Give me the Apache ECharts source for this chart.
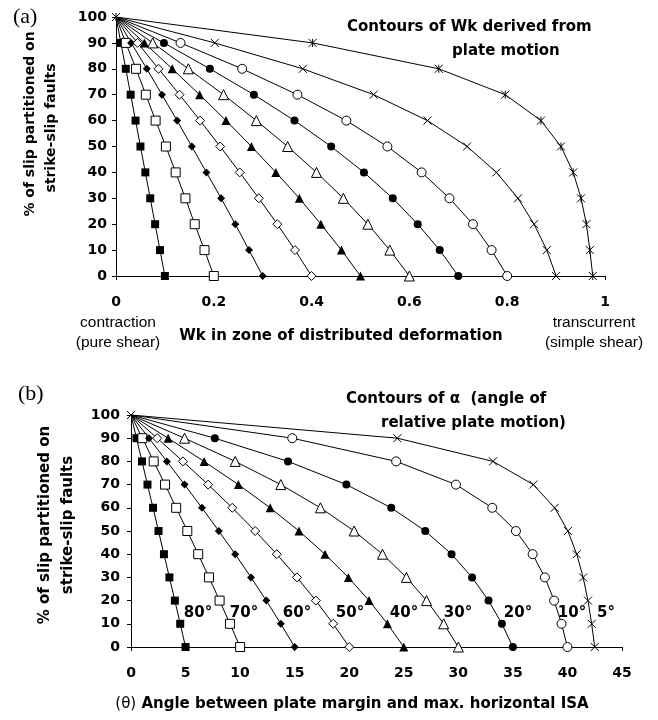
<!DOCTYPE html>
<html>
<head>
<meta charset="utf-8">
<script src="https://cdn.jsdelivr.net/npm/echarts@6/dist/echarts.min.js"></script>
<style>html,body{margin:0;padding:0;background:#fff;}#c{width:658px;height:720px;}</style>
</head>
<body>
<div id="c"></div>
<script>
// % of slip partitioned on strike-slip faults (y values, shared by all contours)
const slip = [0, 10, 20, 30, 40, 50, 60, 70, 80, 90, 100];

// Panel (a): Wk in zone of distributed deformation, one contour per plate-motion Wk
const wk010 = [0.100, 0.090, 0.080, 0.070, 0.060, 0.050, 0.040, 0.030, 0.020, 0.010, 0];
const wk020 = [0.200, 0.181, 0.161, 0.142, 0.122, 0.102, 0.081, 0.061, 0.041, 0.020, 0];
const wk030 = [0.300, 0.272, 0.244, 0.215, 0.185, 0.155, 0.125, 0.094, 0.063, 0.031, 0];
const wk040 = [0.400, 0.366, 0.330, 0.292, 0.253, 0.213, 0.172, 0.130, 0.087, 0.044, 0];
const wk050 = [0.500, 0.461, 0.419, 0.375, 0.327, 0.277, 0.225, 0.171, 0.115, 0.058, 0];
const wk060 = [0.600, 0.560, 0.515, 0.465, 0.410, 0.351, 0.287, 0.220, 0.148, 0.075, 0];
const wk070 = [0.700, 0.662, 0.617, 0.566, 0.507, 0.440, 0.365, 0.282, 0.192, 0.098, 0];
const wk080 = [0.800, 0.768, 0.730, 0.682, 0.625, 0.555, 0.471, 0.371, 0.258, 0.132, 0];
const wk090 = [0.900, 0.881, 0.855, 0.822, 0.778, 0.718, 0.637, 0.527, 0.382, 0.202, 0];
const wk098 = [0.975, 0.969, 0.962, 0.951, 0.935, 0.910, 0.869, 0.796, 0.660, 0.402, 0];

// Panel (b): theta (angle between plate margin and max. horizontal ISA), one contour per alpha
const th80 = [5.0, 4.51, 4.02, 3.52, 3.02, 2.52, 2.02, 1.51, 1.01, 0.50, 0];
const th70 = [10.0, 9.07, 8.12, 7.15, 6.16, 5.16, 4.14, 3.12, 2.08, 1.04, 0];
const th60 = [15.0, 13.73, 12.40, 11.00, 9.55, 8.05, 6.50, 4.91, 3.29, 1.65, 0];
const th50 = [20.0, 18.53, 16.94, 15.21, 13.36, 11.38, 9.28, 7.07, 4.76, 2.40, 0];
const th40 = [25.0, 23.50, 21.82, 19.92, 17.78, 15.40, 12.75, 9.84, 6.70, 3.40, 0];
const th30 = [30.0, 28.66, 27.09, 25.24, 23.05, 20.45, 17.36, 13.73, 9.55, 4.91, 0];
const th20 = [35.0, 33.99, 32.77, 31.26, 29.38, 26.97, 23.85, 19.74, 14.39, 7.68, 0];
const th10 = [40.0, 39.46, 38.78, 37.93, 36.81, 35.28, 33.11, 29.78, 24.30, 14.78, 0];
const th05 = [42.5, 42.22, 41.88, 41.44, 40.85, 40.04, 38.83, 36.87, 33.18, 24.41, 0];

// Tick labels
const yTicks = [0, 10, 20, 30, 40, 50, 60, 70, 80, 90, 100];
const xTicksA = ['0', '0.2', '0.4', '0.6', '0.8', '1'];
const xTicksB = ['0', '5', '10', '15', '20', '25', '30', '35', '40', '45'];
const alphaLabels = ['80°', '70°', '60°', '50°', '40°', '30°', '20°', '10°', '5°'];

const X_PATH = 'path://M0,0L10,10M10,0L0,10';
const STAR_PATH = 'path://M0,0L10,10M10,0L0,10M5,0L5,10';

const markers = [
  {symbol: 'rect', size: 8, fill: '#000'},
  {symbol: 'rect', size: 9, fill: '#fff'},
  {symbol: 'diamond', size: 8, fill: '#000'},
  {symbol: 'diamond', size: 9, fill: '#fff'},
  {symbol: 'triangle', size: 9, fill: '#000'},
  {symbol: 'triangle', size: 10, fill: '#fff'},
  {symbol: 'circle', size: 8, fill: '#000'},
  {symbol: 'circle', size: 9, fill: '#fff'},
  {symbol: X_PATH, size: 8, fill: 'none'},
  {symbol: STAR_PATH, size: 8, fill: 'none'}
];

function makeSeries(arr, m, axisIdx, showTop) {
  const data = slip.map((s, i) => {
    const d = {value: [arr[i], s]};
    if (s === 100 && !showTop) d.symbol = 'none';
    return d;
  });
  const isPath = m.symbol.indexOf('path://') === 0;
  return {
    type: 'line',
    xAxisIndex: axisIdx, yAxisIndex: axisIdx,
    data: data,
    symbol: m.symbol,
    symbolSize: m.size,
    showAllSymbol: true,
    clip: false,
    silent: true,
    lineStyle: {color: '#000', width: 1},
    itemStyle: {
      color: isPath ? '#000' : m.fill,
      borderColor: '#000',
      borderWidth: (m.fill === '#000' && !isPath) ? 0 : 1
    },
    emphasis: {disabled: true},
    z: 3
  };
}

const seriesA = [wk010, wk020, wk030, wk040, wk050, wk060, wk070, wk080, wk090, wk098]
  .map((a, i) => makeSeries(a, markers[i], 0, i === 9));
const seriesB = [th80, th70, th60, th50, th40, th30, th20, th10, th05]
  .map((a, i) => makeSeries(a, markers[i], 1, i === 8));

const tickFont = {fontFamily: 'DejaVu Sans', fontWeight: 'bold', fontSize: 14, color: '#000'};
const axisCommon = {
  axisLine: {show: true, lineStyle: {color: '#000', width: 1}},
  axisTick: {show: true, length: 4, lineStyle: {color: '#000'}},
  splitLine: {show: false}
};

const boldFont = 'bold 15px "DejaVu Sans"';
const yLabFontA = 'bold 14px "DejaVu Sans"';
const normFont = '15.5px "Liberation Sans"';
function txt(x, y, text, font, align, rot) {
  return {
    type: 'text', x: x, y: y, rotation: rot || 0, silent: true,
    style: {text: text, font: font, fill: '#000', textAlign: align || 'left', textVerticalAlign: 'middle'}
  };
}
const degX = [198, 244, 297, 350, 404, 458, 518, 572, 606];

const graphics = [
  txt(13, 17, '(a)', '22px "Liberation Serif"', 'left'),
  txt(18, 394, '(b)', '22px "Liberation Serif"', 'left'),
  txt(30, 124, '% of slip partitioned on', yLabFontA, 'center', Math.PI / 2),
  txt(51, 128, 'strike-slip faults', yLabFontA, 'center', Math.PI / 2),
  txt(45, 525, '% of slip partitioned on', boldFont, 'center', Math.PI / 2),
  txt(68, 525, 'strike-slip faults', boldFont, 'center', Math.PI / 2),
  txt(347, 27, 'Contours of Wk derived from', boldFont, 'left'),
  txt(452, 51, 'plate motion', boldFont, 'left'),
  txt(118, 323, 'contraction', normFont, 'center'),
  txt(118, 343, '(pure shear)', normFont, 'center'),
  txt(341, 336, 'Wk in zone of distributed deformation', boldFont, 'center'),
  txt(594, 323, 'transcurrent', normFont, 'center'),
  txt(594, 343, '(simple shear)', normFont, 'center'),
  txt(346, 399, 'Contours of α  (angle of', boldFont, 'left'),
  txt(381, 423, 'relative plate motion)', boldFont, 'left'),
  {
    type: 'text', x: 352, y: 704, silent: true,
    style: {
      text: '{n|(θ)} Angle between plate margin and max. horizontal ISA',
      font: boldFont, fill: '#000', textAlign: 'center', textVerticalAlign: 'middle',
      rich: {n: {font: '15px "DejaVu Sans"', fill: '#000'}}
    }
  }
].concat(alphaLabels.map((t, i) => txt(degX[i], 613, t, 'bold 15px "DejaVu Sans"', 'center')));

const chart = echarts.init(document.getElementById('c'), null, {renderer: 'canvas'});
chart.setOption({
  animation: false,
  backgroundColor: '#fff',
  grid: [
    {left: 116, top: 17, width: 489, height: 259},
    {left: 131, top: 415, width: 491, height: 232}
  ],
  xAxis: [
    Object.assign({}, axisCommon, {
      gridIndex: 0, type: 'value', min: 0, max: 1, interval: 0.2,
      axisLabel: Object.assign({}, tickFont, {margin: 19, formatter: (v) => xTicksA[Math.round(v / 0.2)]})
    }),
    Object.assign({}, axisCommon, {
      gridIndex: 1, type: 'value', min: 0, max: 45, interval: 5,
      axisLabel: Object.assign({}, tickFont, {margin: 19, formatter: (v) => xTicksB[Math.round(v / 5)]})
    })
  ],
  yAxis: [
    Object.assign({}, axisCommon, {
      gridIndex: 0, type: 'value', min: 0, max: 100, interval: 10,
      axisLabel: Object.assign({}, tickFont, {margin: 9, formatter: (v) => String(yTicks[Math.round(v / 10)])})
    }),
    Object.assign({}, axisCommon, {
      gridIndex: 1, type: 'value', min: 0, max: 100, interval: 10,
      axisLabel: Object.assign({}, tickFont, {margin: 11, formatter: (v) => String(yTicks[Math.round(v / 10)])})
    })
  ],
  graphic: graphics,
  series: seriesA.concat(seriesB)
});
</script>
</body>
</html>
